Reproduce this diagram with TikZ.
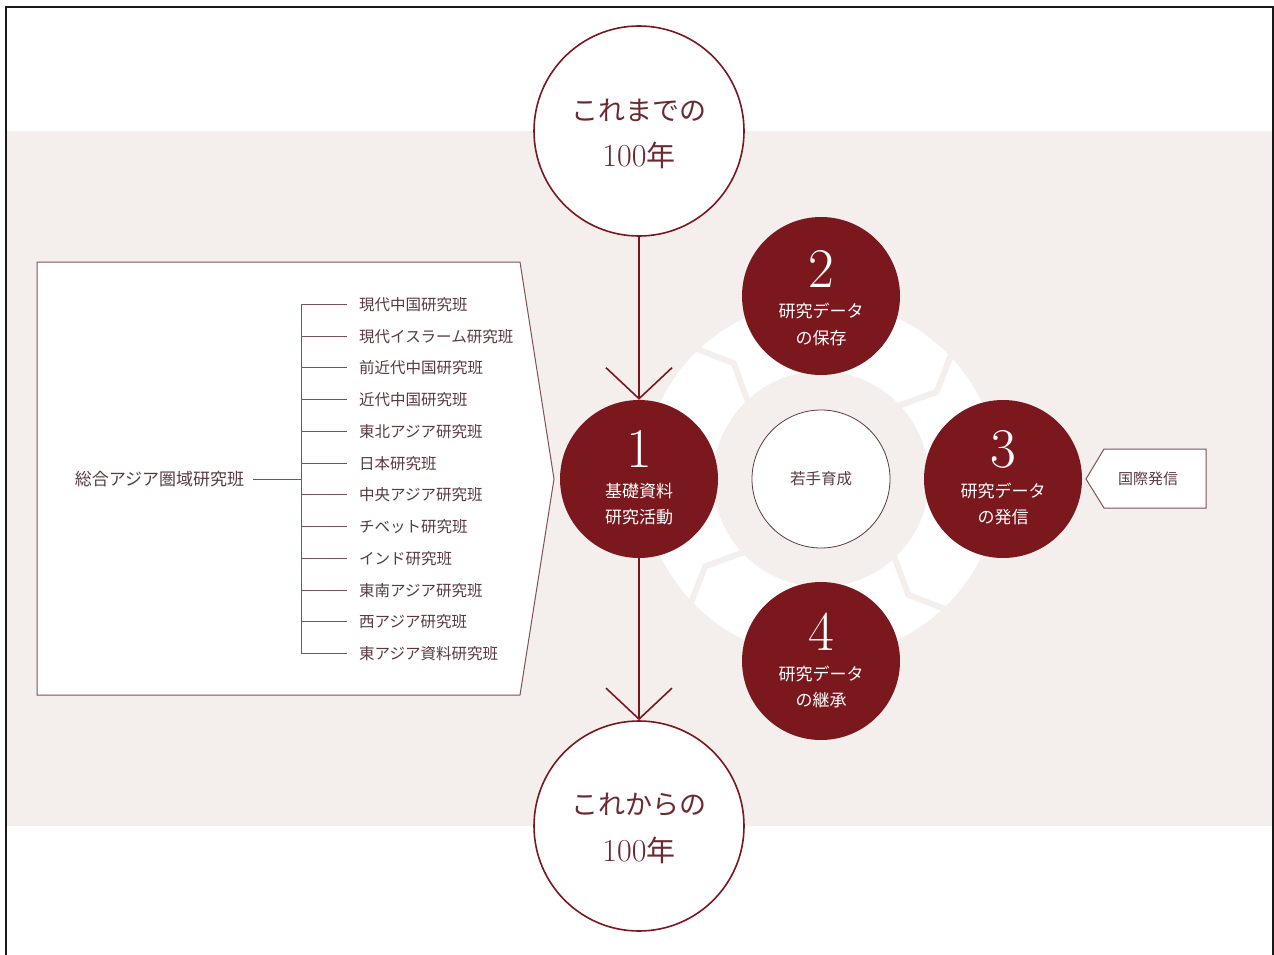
\documentclass[tikz,border=0pt]{standalone}
\usepackage{fontspec}
\newfontfamily\jp{Noto Sans CJK JP}
\usetikzlibrary{arrows.meta,calc}
\definecolor{maroon}{HTML}{7A181E}
\definecolor{band}{HTML}{F4EFED}
\definecolor{txt}{HTML}{5A3A3E}
\definecolor{edge}{HTML}{7E5256}
\definecolor{ctxt}{HTML}{6B2A30}
\begin{document}
\begin{tikzpicture}[x=1pt,y=-1pt,
  bigc/.style={circle,draw=maroon,line width=1.6pt,fill=white,minimum size=210pt,inner sep=0pt},
  darkc/.style={circle,fill=maroon,minimum size=158pt,inner sep=0pt},
  numtxt/.style={text=white,inner sep=0pt,font=\fontsize{56}{56}\selectfont},
  wtxt/.style={text=white,inner sep=0pt,font=\jp\fontsize{17}{20}\selectfont},
  lbl/.style={anchor=west,inner sep=0pt,text=txt,font=\jp\fontsize{15.5}{18}\selectfont},
  branch/.style={draw=edge,line width=1.2pt},
  flow/.style={draw=maroon,line width=1.6pt,-{Straight Barb[length=31pt,width=66pt]}},
  chev/.style={draw=band,line width=6pt}
]
\useasboundingbox (0,0) rectangle (1274,955);
% background band and frame
\fill[band] (7,131) rectangle (1272,826);
\draw[line width=2pt,black!90] (6,955) -- (6,7) -- (1273,7) -- (1273,955);

% ring with chevrons
\coordinate (ctr) at (821,479);
\fill[white,even odd rule] (ctr) circle[radius=178pt] (ctr) circle[radius=108pt];
\foreach \a in {37,127,217,307}{
  \pgfmathsetmacro\b{\a+7}
  \draw[chev] ([shift={(\b:182pt)}]ctr) -- ([shift={(\a:145pt)}]ctr) -- ([shift={(\b:104pt)}]ctr);
}

% left panel
\draw[edge,fill=white,line width=1pt] (37,262) -- (520,262) -- (554,479) -- (520,695) -- (37,695) -- cycle;
\node[inner sep=0pt,text=txt,font=\jp\fontsize{17}{20}\selectfont] (root) at (159.5,479) {総合アジア圏域研究班};
\coordinate (trunk) at (301.5,479.5);
\draw[branch] ([xshift=9pt]root.east |- trunk) -- (trunk);
\draw[branch] (301.5,303.9) -- (301.5,654.1);
\foreach \t [count=\i] in {現代中国研究班,現代イスラーム研究班,前近代中国研究班,近代中国研究班,東北アジア研究班,日本研究班,中央アジア研究班,チベット研究班,インド研究班,東南アジア研究班,西アジア研究班,東アジア資料研究班}{
  \pgfmathsetmacro\yy{round(304+31.73*(\i-1))+0.5}
  \node[lbl] (b\i) at (359,\yy) {\t};
  \draw[branch] (301.5,\yy) -- ([xshift=-12pt]b\i.west);
}

% right box
\draw[edge,fill=white,line width=1pt] (1086,479) -- (1104,449) -- (1206,449) -- (1206,508) -- (1104,508) -- cycle;
\node[inner sep=0pt,text=txt,font=\jp\fontsize{15}{17}\selectfont] (intl) at (1148,479) {国際発信};

% big circles
\node[bigc] (top) at (639,131) {};
\node[bigc] (bot) at (639,826) {};
\node[inner sep=0pt,text=ctxt,font=\jp\fontsize{27}{30}\selectfont] at (639,110) {これまでの};
\node[inner sep=0pt,text=ctxt] at (639,155) {\fontsize{32}{32}\selectfont 100\jp\fontsize{29}{30}\selectfont 年};
\node[inner sep=0pt,text=ctxt,font=\jp\fontsize{27}{30}\selectfont] at (639,805) {これからの};
\node[inner sep=0pt,text=ctxt] at (639,850) {\fontsize{32}{32}\selectfont 100\jp\fontsize{29}{30}\selectfont 年};

% dark circles
\node[darkc] (c1) at (639,479) {};
\node[darkc] (c2) at (821,296) {};
\node[darkc] (c3) at (1003,479) {};
\node[darkc] (c4) at (821,661) {};
\node[circle,draw=txt,line width=0.8pt,fill=white,minimum size=138pt,inner sep=0pt,text=txt,font=\jp\fontsize{15.5}{18}\selectfont] (young) at (ctr) {若手育成};

\node[numtxt] at ($(c1)+(0,-30)$) {1};
\node[wtxt] at ($(c1)+(0,12)$) {基礎資料};
\node[wtxt] at ($(c1)+(0,38)$) {研究活動};
\node[numtxt] at ($(c2)+(0,-27)$) {2};
\node[wtxt] at ($(c2)+(0,15)$) {研究データ};
\node[wtxt] at ($(c2)+(0,42)$) {の保存};
\node[numtxt] at ($(c3)+(0,-30)$) {3};
\node[wtxt] at ($(c3)+(0,12)$) {研究データ};
\node[wtxt] at ($(c3)+(0,38)$) {の発信};
\node[numtxt] at ($(c4)+(0,-29)$) {4};
\node[wtxt] at ($(c4)+(0,13)$) {研究データ};
\node[wtxt] at ($(c4)+(0,39)$) {の継承};

% flow arrows
\draw[flow] (top) -- (c1);
\draw[flow] (c1) -- (bot);
\end{tikzpicture}
\end{document}
